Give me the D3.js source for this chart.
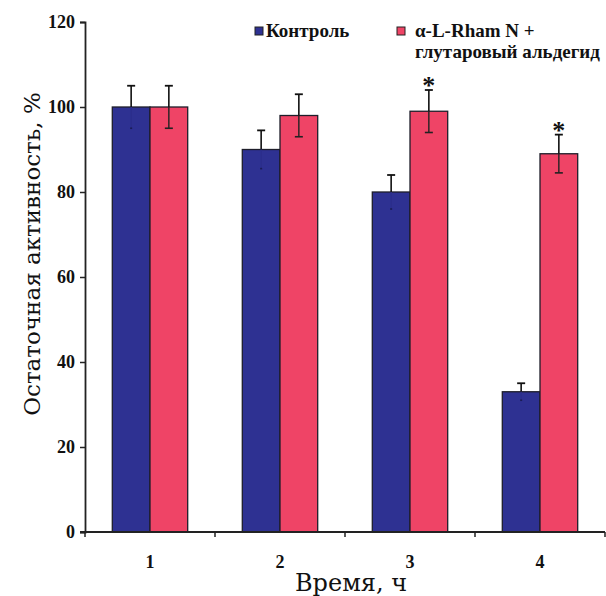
<!DOCTYPE html>
<html>
<head>
<meta charset="utf-8">
<script src="https://cdn.jsdelivr.net/npm/d3@7"></script>
<style>
  html, body { margin: 0; padding: 0; background: #fff; }
  svg { display: block; }
</style>
</head>
<body>
<svg id="chart" width="606" height="596"></svg>
<script>
// Residual activity over time, two series with SD error bars
const categories = ["1", "2", "3", "4"];
const seriesNames = ["Контроль", "α-L-Rham N +", "глутаровый альдегид"];
const controlValues = [100, 90, 80, 33];
const controlErrors = [5, 4.5, 4, 2];
const treatedValues = [100, 98, 99, 89];
const treatedErrors = [5, 5, 5, 4.5];
const significant = [false, false, true, true];
const yTicks = [0, 20, 40, 60, 80, 100, 120];

const colors = { control: "#2e3192", treated: "#ef4466" };
const FONT = "Liberation Serif";
const TITLE_FONT = "DejaVu Serif";

const svg = d3.select("#chart");
const plotLeft = 85, plotRight = 605, plotTop = 22, plotBottom = 532;

const x = d3.scaleBand().domain(categories).range([plotLeft, plotRight])
  .paddingInner(0.42).paddingOuter(0.21);
const y = d3.scaleLinear().domain([0, 120]).range([plotBottom, plotTop]);
const sub = d3.scaleBand().domain(["control", "treated"]).range([0, x.bandwidth()]);

const rows = categories.map((c, i) => ({
  cat: c,
  items: [
    { key: "control", v: controlValues[i], e: controlErrors[i] },
    { key: "treated", v: treatedValues[i], e: treatedErrors[i] }
  ],
  sig: significant[i]
}));

// Bars
const groups = svg.append("g").selectAll("g").data(rows).join("g")
  .attr("transform", d => `translate(${x(d.cat)},0)`);

groups.selectAll("rect").data(d => d.items).join("rect")
  .attr("x", d => sub(d.key))
  .attr("y", d => y(d.v))
  .attr("width", sub.bandwidth())
  .attr("height", d => y(0) - y(d.v))
  .attr("fill", d => colors[d.key])
  .attr("stroke", "#1e1e2a")
  .attr("stroke-width", 1.3);

// Error bars: upper part in black, lower part blends with the bar
const cap = 4;
const eb = groups.selectAll("g.err").data(d => d.items).join("g").attr("class", "err")
  .attr("transform", d => `translate(${sub(d.key) + sub.bandwidth() / 2},0)`);
eb.append("line")
  .attr("y1", d => y(d.v)).attr("y2", d => y(d.v + d.e))
  .attr("stroke", "#111").attr("stroke-width", 1.6);
eb.append("line")
  .attr("x1", -cap).attr("x2", cap)
  .attr("y1", d => y(d.v + d.e)).attr("y2", d => y(d.v + d.e))
  .attr("stroke", "#111").attr("stroke-width", 1.8);
eb.append("line")
  .attr("y1", d => y(d.v)).attr("y2", d => y(d.v - d.e))
  .attr("stroke", d => d.key === "control" ? "#2b2e8c" : "#222").attr("stroke-width", 1.4);
eb.append("line")
  .attr("x1", d => d.key === "control" ? -1 : -cap).attr("x2", d => d.key === "control" ? 1 : cap)
  .attr("y1", d => y(d.v - d.e)).attr("y2", d => y(d.v - d.e))
  .attr("stroke", d => d.key === "control" ? "#1a1c55" : "#222").attr("stroke-width", 1.6);

// Significance marks
groups.filter(d => d.sig).append("text")
  .attr("x", sub("treated") + sub.bandwidth() / 2)
  .attr("y", d => y(d.items[1].v + d.items[1].e) + 4)
  .attr("text-anchor", "middle")
  .attr("font-family", FONT).attr("font-weight", "bold").attr("font-size", 26)
  .attr("fill", "#111")
  .text("*");

// Y axis
const yAxis = svg.append("g").attr("transform", `translate(${plotLeft},0)`)
  .call(d3.axisLeft(y).tickValues(yTicks).tickSize(5).tickPadding(5));
yAxis.attr("font-family", FONT);
yAxis.select(".domain").attr("stroke", "#222").attr("stroke-width", 1.8);
yAxis.selectAll(".tick line").attr("stroke", "#222").attr("stroke-width", 1.5);
yAxis.selectAll("text").attr("font-family", FONT).attr("font-weight", "bold")
  .attr("font-size", 18).attr("fill", "#111");

// X axis: ticks at group boundaries, labels centred under groups
const xAxis = svg.append("g").attr("transform", `translate(0,${plotBottom})`);
xAxis.append("line").attr("x1", plotLeft - 5).attr("x2", plotRight)
  .attr("stroke", "#222").attr("stroke-width", 1.8);
const edges = [plotLeft].concat(
  categories.slice(1).map(c => x(c) - (x.step() - x.bandwidth()) / 2),
  [plotRight]);
xAxis.selectAll("line.tk").data(edges).join("line").attr("class", "tk")
  .attr("x1", d => d).attr("x2", d => d).attr("y1", 0).attr("y2", 5)
  .attr("stroke", "#222").attr("stroke-width", 1.5);
xAxis.selectAll("text").data(categories).join("text")
  .attr("x", d => x(d) + x.bandwidth() / 2)
  .attr("y", 36)
  .attr("text-anchor", "middle")
  .attr("font-family", FONT).attr("font-weight", "bold").attr("font-size", 18)
  .attr("fill", "#111")
  .text(d => d);

// Axis titles
svg.append("text")
  .attr("transform", `translate(40,254) rotate(-90)`)
  .attr("text-anchor", "middle")
  .attr("font-family", TITLE_FONT).attr("font-size", 23).attr("fill", "#111")
  .text("Остаточная активность, %");
svg.append("text")
  .attr("x", 351).attr("y", 591)
  .attr("text-anchor", "middle")
  .attr("font-family", TITLE_FONT).attr("font-size", 24).attr("fill", "#111")
  .text("Время, ч");

// Legend
const legend = svg.append("g").attr("font-family", FONT).attr("font-weight", "bold")
  .attr("font-size", 19).attr("fill", "#111");
legend.append("rect").attr("x", 255).attr("y", 27).attr("width", 8).attr("height", 8)
  .attr("fill", colors.control).attr("stroke", "#222").attr("stroke-width", 1);
legend.append("text").attr("x", 266).attr("y", 37).text(seriesNames[0]);
legend.append("rect").attr("x", 397).attr("y", 27).attr("width", 8).attr("height", 8)
  .attr("fill", colors.treated).attr("stroke", "#222").attr("stroke-width", 1);
legend.append("text").attr("x", 415).attr("y", 37).text(seriesNames[1]);
legend.append("text").attr("x", 415).attr("y", 58).text(seriesNames[2]);
</script>
</body>
</html>
